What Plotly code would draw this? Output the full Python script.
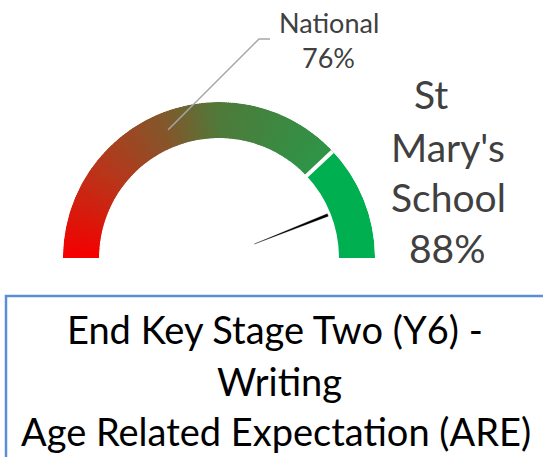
import numpy as np
import plotly.graph_objects as go

# ---- data ----
school_lines = ["St", "Mary's", "School"]
school_value = 88          # %
national_label = "National"
national_value = 76        # %
title_lines = ["End Key Stage Two (Y6) -", "Writing", "Age Related Expectation (ARE)"]
gauge_max = 100

# ---- geometry / style ----
W, H = 543, 457
CX, CY = 219, 258          # gauge centre (px)
R_OUT, R_IN = 156, 120
FONT = "Lato"
GREY_TXT = "#404040"


def deg(v):
    return v / gauge_max * 180.0


fig = go.Figure()

# gradient segment 0..national, drawn as thin polar bars coloured along a scale
n_slices = 180
edges = np.linspace(0, national_value, n_slices + 1)
centres = (edges[:-1] + edges[1:]) / 2
step = deg(edges[1] - edges[0])
fig.add_trace(go.Barpolar(
    r=[R_OUT - R_IN] * n_slices,
    base=[R_IN] * n_slices,
    theta=[deg(c) for c in centres],
    width=[step * 1.6] * n_slices,
    marker=dict(color=centres / national_value,
                colorscale=[[0, "#F50000"], [0.27, "#B8361A"], [0.5, "#82582C"],
                            [0.66, "#4F7A3A"], [1, "#2E9548"]],
                cmin=0, cmax=1, line=dict(width=0)),
    hoverinfo="skip", showlegend=False,
))

# solid green remainder
fig.add_trace(go.Barpolar(
    r=[R_OUT - R_IN], base=[R_IN],
    theta=[deg((national_value + gauge_max) / 2)],
    width=[deg(gauge_max - national_value)],
    marker=dict(color="#00B050", line=dict(width=0)),
    hoverinfo="skip", showlegend=False,
))

# white separator at the national value
fig.add_trace(go.Scatterpolar(
    r=[R_IN - 4, R_OUT], theta=[deg(national_value)] * 2,
    mode="lines", line=dict(color="white", width=4),
    hoverinfo="skip", showlegend=False,
))

# needle (tapered wedge) at the school value
a = deg(school_value)
fig.add_trace(go.Scatterpolar(
    r=[38, R_IN - 3, R_IN - 3, 38],
    theta=[a, a - 0.65, a + 0.65, a],
    mode="lines", fill="toself", fillcolor="black",
    line=dict(color="black", width=0.3),
    hoverinfo="skip", showlegend=False,
))

fig.update_layout(
    width=W, height=H,
    margin=dict(l=0, r=0, t=0, b=0),
    paper_bgcolor="white", plot_bgcolor="white",
    polar=dict(
        domain=dict(x=[(CX - R_OUT) / W, (CX + R_OUT) / W],
                    y=[1 - CY / H, 1 - (CY - R_OUT) / H]),
        sector=[0, 180],
        bgcolor="white",
        radialaxis=dict(visible=False, range=[0, R_OUT]),
        angularaxis=dict(visible=False, rotation=180, direction="clockwise",
                         thetaunit="degrees", showgrid=False, showline=False),
    ),
)


def px(x, y):
    return x / W, 1 - y / H


def label(text, x, y, size, color):
    lx, ly = px(x, y)
    fig.add_annotation(x=lx, y=ly, xref="paper", yref="paper", text=text,
                       showarrow=False, font=dict(family=FONT, size=size, color=color),
                       xanchor="center", yanchor="middle", align="center")


# national label leader line (from middle of the national segment)
ang = np.radians(180 - deg(national_value / 2))
rm = (R_OUT + R_IN) / 2
sx, sy = CX + rm * np.cos(ang), CY - rm * np.sin(ang)
p0, p1, p2 = px(sx, sy), px(259, 39), px(270, 39)
fig.add_shape(type="path", xref="paper", yref="paper",
              path=f"M {p0[0]},{p0[1]} L {p1[0]},{p1[1]} L {p2[0]},{p2[1]}",
              line=dict(color="#A6A6A6", width=1.5))

label(national_label, 329, 22.5, 27, GREY_TXT)
label(f"{national_value}%", 328, 58, 27, GREY_TXT)

# school label, one line at a time
school_all = school_lines + [f"{school_value}%"]
school_x = [431, 448, 448, 447]
school_y = [94, 146.5, 197, 247.5]
for t, x, y in zip(school_all, school_x, school_y):
    label(t, x, y, 39, GREY_TXT)

# title box
b0 = px(6, 296)
fig.add_shape(type="rect", xref="paper", yref="paper",
              x0=b0[0], y0=-0.1, x1=1.1, y1=b0[1],
              line=dict(color="#5B8FD5", width=2.5), fillcolor="rgba(0,0,0,0)")
title_x = [275, 279, 276]
title_y = [329, 380.5, 430.5]
for t, x, y in zip(title_lines, title_x, title_y):
    label(t, x, y, 38, "black")

fig.write_html("out.html",
               config={"displayModeBar": False},
               post_script="document.body.style.margin='0';document.body.style.overflow='hidden';")
